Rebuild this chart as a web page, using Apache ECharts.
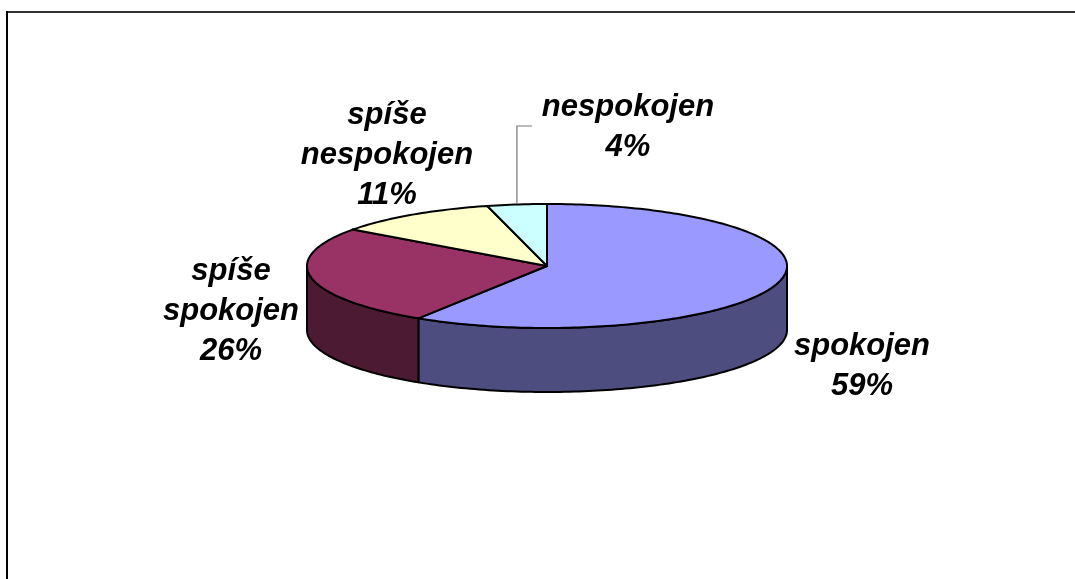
<!DOCTYPE html>
<html>
<head>
<meta charset="utf-8">
<script src="https://cdn.jsdelivr.net/npm/echarts@6/dist/echarts.min.js"></script>
<style>
  html, body { margin: 0; padding: 0; background: #fff; }
  #chart { width: 1075px; height: 579px; }
</style>
</head>
<body>
<div id="chart"></div>
<script>
// ---- data ----
const categories = ['spokojen', 'spíše spokojen', 'spíše nespokojen', 'nespokojen'];
const labelTexts = ['spokojen', 'spíše\nspokojen', 'spíše\nnespokojen', 'nespokojen'];
const values = [59, 26, 11, 4];

// ---- styles / layout ----
const topColors = ['#9999FF', '#993366', '#FFFFCC', '#CCFFFF'];
const sideColors = ['#4D4D80', '#4D1A33', '#80806A', '#6A8080'];
const labelPos = [[862, 366], [231, 311], [387, 155], [628, 127]];
const leader = [false, false, false, true];
const PIE = { cx: 547, cy: 266, rx: 240, ry: 62, depth: 64 };

const chart = echarts.init(document.getElementById('chart'), null, { renderer: 'canvas' });

function pt(a, dy) {
  return [PIE.cx + PIE.rx * Math.sin(a), PIE.cy - PIE.ry * Math.cos(a) + (dy || 0)];
}
function arc(a0, a1, dy) {
  const pts = [];
  const n = Math.max(2, Math.ceil(Math.abs(a1 - a0) / 0.02));
  for (let k = 0; k <= n; k++) pts.push(pt(a0 + (a1 - a0) * k / n, dy));
  return pts;
}

function renderItem(params, api) {
  const i = params.dataIndex;
  const total = values.reduce((s, v) => s + v, 0);
  let start = 0;
  for (let k = 0; k < i; k++) start += values[k];
  const v = api.value(1);
  const a0 = start / total * Math.PI * 2;
  const a1 = (start + v) / total * Math.PI * 2;
  const children = [];
  // visible outer side (front half: PI/2 .. 3PI/2)
  const s = Math.max(a0, Math.PI / 2), e = Math.min(a1, Math.PI * 1.5);
  if (s < e) {
    const pts = arc(s, e, 0).concat(arc(e, s, PIE.depth));
    children.push({
      type: 'polygon', z2: 1,
      shape: { points: pts },
      style: { fill: sideColors[i], stroke: '#000', lineWidth: 2, lineJoin: 'round' }
    });
  }
  // top face
  const topPts = [[PIE.cx, PIE.cy]].concat(arc(a0, a1, 0));
  children.push({
    type: 'polygon', z2: 5,
    shape: { points: topPts },
    style: { fill: topColors[i], stroke: '#000', lineWidth: 2, lineJoin: 'round' }
  });
  // label
  const pct = Math.round(v / total * 100) + '%';
  const lp = labelPos[i];
  children.push({
    type: 'text', z2: 10,
    style: {
      text: labelTexts[i] + '\n' + pct,
      x: lp[0], y: lp[1],
      align: 'center', verticalAlign: 'middle',
      fontFamily: '"Liberation Sans", Arial, sans-serif',
      fontSize: 31, fontWeight: 'bold', fontStyle: 'italic',
      lineHeight: 40, fill: '#000'
    }
  });
  if (leader[i]) {
    const mid = pt((a0 + a1) / 2, 0);
    const topY = lp[1] - 1;
    children.push({
      type: 'polyline', z2: 8,
      shape: { points: [[mid[0], mid[1] - 1], [mid[0], topY], [mid[0] + 15, topY]] },
      style: { stroke: '#777', lineWidth: 1.2, fill: null }
    });
  }
  return { type: 'group', children: children };
}

chart.setOption({
  backgroundColor: '#ffffff',
  animation: false,
  graphic: [
    { type: 'line', shape: { x1: 7, y1: 12, x2: 1075, y2: 12 }, style: { stroke: '#333', lineWidth: 2 } },
    { type: 'line', shape: { x1: 7, y1: 11, x2: 7, y2: 579 }, style: { stroke: '#000', lineWidth: 2 } }
  ],
  series: [{
    type: 'custom',
    coordinateSystem: 'none',
    renderItem: renderItem,
    data: categories.map((c, i) => [c, values[i]])
  }]
});
</script>
</body>
</html>
